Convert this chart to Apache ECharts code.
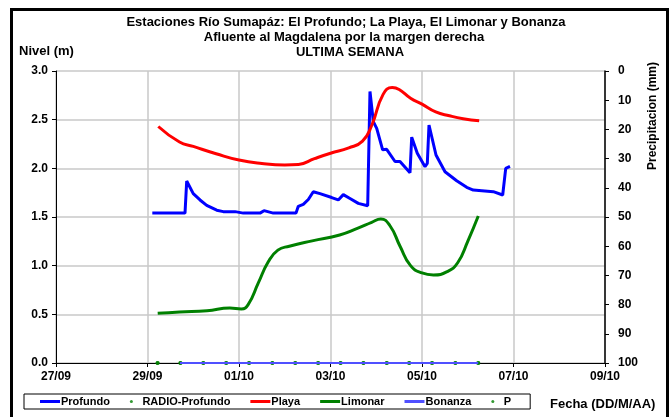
<!DOCTYPE html>
<html>
<head>
<meta charset="utf-8">
<title>Estaciones Río Sumapáz</title>
<script src="https://cdn.jsdelivr.net/npm/echarts@6/dist/echarts.min.js"></script>
<style>
  html, body { margin: 0; padding: 0; background: #fff; }
  #chart { width: 672px; height: 417px; }
</style>
</head>
<body>
<div id="chart"></div>
<script>
// días contados desde el 27/09
const xTickLabels = ['27/09', '29/09', '01/10', '03/10', '05/10', '07/10', '09/10'];
const rightTickLabels = [0, 10, 20, 30, 40, 50, 60, 70, 80, 90, 100];

const profundoDays = [2.105, 2.82, 2.857, 3.0, 3.148, 3.294, 3.513, 3.657, 3.913, 4.094, 4.459, 4.546, 4.75, 5.246, 5.296, 5.405, 5.515, 5.624, 5.77, 6.026, 6.17, 6.28, 6.426, 6.608, 6.813, 6.863, 6.936, 7.01, 7.14, 7.228, 7.41, 7.519, 7.738, 7.775, 7.897, 8.066, 8.116, 8.153, 8.306, 8.503, 8.758, 8.977, 9.121, 9.559, 9.764, 9.83, 9.923];
const profundoLevel = [1.54, 1.54, 1.87, 1.74, 1.675, 1.62, 1.57, 1.555, 1.555, 1.54, 1.54, 1.565, 1.54, 1.54, 1.61, 1.63, 1.68, 1.76, 1.74, 1.70, 1.675, 1.73, 1.69, 1.64, 1.615, 2.79, 2.48, 2.41, 2.19, 2.195, 2.07, 2.07, 1.955, 2.32, 2.155, 2.017, 2.05, 2.445, 2.137, 1.965, 1.873, 1.805, 1.777, 1.76, 1.726, 2.0, 2.02];

const playaDays = [2.236, 2.7, 3.0, 3.5, 4.0, 4.5, 5.0, 5.3, 5.65, 6.0, 6.4, 6.7, 6.9, 7.15, 7.35, 7.5, 7.75, 8.0, 8.3, 8.6, 8.9, 9.25];
const playaLevel = [2.43, 2.27, 2.225, 2.15, 2.085, 2.05, 2.035, 2.04, 2.10, 2.155, 2.21, 2.28, 2.44, 2.76, 2.83, 2.81, 2.72, 2.66, 2.58, 2.54, 2.51, 2.49];

const limonarDays = [2.223, 2.7, 3.3, 3.8, 4.05, 4.2, 4.42, 4.64, 4.85, 5.1, 5.6, 6.2, 6.6, 6.9, 7.1, 7.3, 7.52, 7.75, 8.0, 8.25, 8.55, 8.78, 9.0, 9.23];
const limonarLevel = [0.51, 0.524, 0.537, 0.565, 0.555, 0.6, 0.82, 1.04, 1.16, 1.2, 1.255, 1.315, 1.385, 1.445, 1.48, 1.41, 1.2, 1.0, 0.925, 0.904, 0.938, 1.03, 1.25, 1.51];

const bonanzaDays = [2.71, 9.23];
const bonanzaLevel = [0, 0];

const radioDays = [2.22, 2.72, 3.22, 3.72, 4.22, 4.73, 5.23, 5.73, 6.22, 6.72, 7.23, 7.72, 8.22, 8.73, 9.23];
const radioLevel = [0, 0, 0, 0, 0, 0, 0, 0, 0, 0, 0, 0, 0, 0, 0];
const pDays = [2.22, 2.72, 3.22, 3.72, 4.22, 4.73, 5.23, 5.73, 6.22, 6.72, 7.23, 7.72, 8.22, 8.73, 9.23];
const pLevel = [0, 0, 0, 0, 0, 0, 0, 0, 0, 0, 0, 0, 0, 0, 0];

const pairs = (xs, ys) => xs.map((x, i) => [x, ys[i]]);

const FONT = '"Liberation Sans", Arial, sans-serif';
const chart = echarts.init(document.getElementById('chart'));

const option = {
  animation: false,
  grid: { left: 56, right: 67, top: 71, bottom: 54 },
  graphic: [
    {
      type: 'rect', silent: true, z: 100,
      shape: { x: 11.5, y: 9.5, width: 656, height: 430 },
      style: { fill: 'none', stroke: '#000', lineWidth: 3 },
    },
    {
      type: 'text', x: 346, y: 22,
      style: { text: 'Estaciones Río Sumapáz: El Profundo; La Playa, El Limonar y Bonanza', font: 'bold 13px ' + FONT, fill: '#000', align: 'center', verticalAlign: 'middle' },
    },
    {
      type: 'text', x: 344, y: 37,
      style: { text: 'Afluente al Magdalena por la margen derecha', font: 'bold 13px ' + FONT, fill: '#000', align: 'center', verticalAlign: 'middle' },
    },
    {
      type: 'text', x: 350, y: 52,
      style: { text: 'ULTIMA SEMANA', font: 'bold 13px ' + FONT, fill: '#000', align: 'center', verticalAlign: 'middle' },
    },
    {
      type: 'text', x: 19, y: 51,
      style: { text: 'Nivel (m)', font: 'bold 13px ' + FONT, fill: '#000', verticalAlign: 'middle' },
    },
    {
      type: 'text', x: 653, y: 116, rotation: Math.PI / 2,
      style: { text: 'Precipitacion (mm)', font: 'bold 12px ' + FONT, fill: '#000', align: 'center', verticalAlign: 'middle' },
    },
    {
      type: 'text', x: 550, y: 404,
      style: { text: 'Fecha (DD/M/AA)', font: 'bold 13px ' + FONT, fill: '#000', verticalAlign: 'middle' },
    },
  ],
  legend: {
    left: 24, top: 394,
    itemWidth: 20, itemHeight: 3, itemGap: 20,
    padding: [2, 19, 2, 16],
    borderColor: '#000', borderWidth: 1,
    textStyle: { fontFamily: FONT, fontWeight: 'bold', fontSize: 11, color: '#000', padding: [0, 0, 0, -4] },
    data: [
      { name: 'Profundo', icon: 'rect' },
      { name: 'RADIO-Profundo', icon: 'circle' },
      { name: 'Playa', icon: 'rect' },
      { name: 'Limonar', icon: 'rect' },
      { name: 'Bonanza', icon: 'rect' },
      { name: 'P', icon: 'circle' },
    ],
  },
  xAxis: {
    type: 'value', min: 0, max: 12, interval: 2,
    axisLine: { lineStyle: { color: '#000', width: 1 } },
    axisTick: { show: true, length: 4, lineStyle: { color: '#000' } },
    splitLine: { show: true, lineStyle: { color: '#c8c8c8', width: 1.5 } },
    axisLabel: {
      margin: 8, color: '#000', fontFamily: FONT, fontWeight: 'bold', fontSize: 12,
      formatter: (v) => xTickLabels[Math.round(v / 2)],
    },
  },
  yAxis: [
    {
      type: 'value', min: 0, max: 3, interval: 0.5,
      axisLine: { show: true, lineStyle: { color: '#000' } },
      axisTick: { show: true, length: 4, lineStyle: { color: '#000' } },
      splitLine: { show: true, lineStyle: { color: '#c8c8c8', width: 1.5 } },
      axisLabel: {
        margin: 8, color: '#000', fontFamily: FONT, fontWeight: 'bold', fontSize: 12,
        formatter: (v) => v.toFixed(1),
      },
    },
    {
      type: 'value', min: 0, max: 100, interval: 10, inverse: true, position: 'right',
      axisLine: { show: true, lineStyle: { color: '#000', width: 1.5 } },
      axisTick: { show: true, length: 4, lineStyle: { color: '#000' } },
      splitLine: { show: false },
      axisLabel: {
        margin: 13, color: '#000', fontFamily: FONT, fontWeight: 'bold', fontSize: 12,
        formatter: (v) => String(rightTickLabels[Math.round(v / 10)]),
      },
    },
  ],
  series: [
    {
      name: 'Profundo', type: 'line', symbol: 'none', clip: false,
      color: '#0000ff', lineStyle: { width: 3, color: '#0000ff' },
      data: pairs(profundoDays, profundoLevel),
    },
    {
      name: 'RADIO-Profundo', type: 'scatter', symbolSize: 4, clip: false,
      color: '#008000', itemStyle: { color: '#008000' },
      data: pairs(radioDays, radioLevel),
    },
    {
      name: 'Playa', type: 'line', symbol: 'none', clip: false, smooth: 0.5,
      color: '#ff0000', lineStyle: { width: 3, color: '#ff0000' },
      data: pairs(playaDays, playaLevel),
    },
    {
      name: 'Limonar', type: 'line', symbol: 'none', clip: false, smooth: 0.5,
      color: '#008000', lineStyle: { width: 3, color: '#008000' },
      data: pairs(limonarDays, limonarLevel),
    },
    {
      name: 'Bonanza', type: 'line', symbol: 'none', clip: false,
      color: '#5050ff', lineStyle: { width: 2, color: '#5050ff' },
      data: pairs(bonanzaDays, bonanzaLevel),
    },
    {
      name: 'P', type: 'scatter', symbolSize: 4, clip: false,
      color: '#008000', itemStyle: { color: '#008000' },
      data: pairs(pDays, pLevel),
    },
  ],
};

chart.setOption(option);
</script>
</body>
</html>
